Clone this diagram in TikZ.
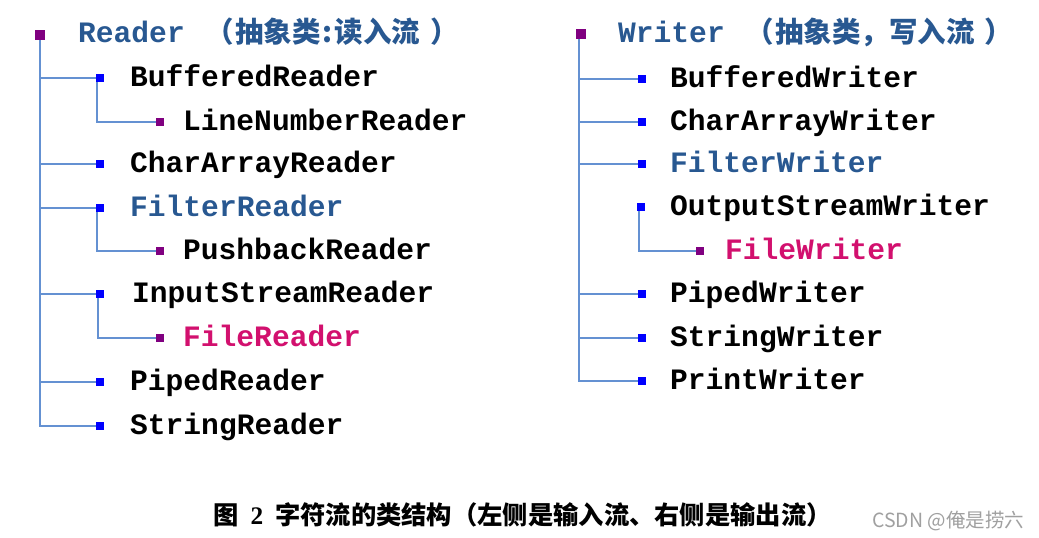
\documentclass[tikz,border=0pt]{standalone}
\usepackage{fontspec}
\setmonofont{Liberation Mono}
\newfontfamily\cjk{Noto Sans CJK SC}
\newfontfamily\serifb{Liberation Serif}
\definecolor{rootpurple}{RGB}{128,0,128}
\definecolor{sqblue}{RGB}{0,0,255}
\definecolor{linecol}{RGB}{100,145,210}
\definecolor{hdrblue}{RGB}{40,88,145}
\definecolor{magent}{RGB}{210,16,110}
\definecolor{wmgray}{RGB}{160,160,160}
\begin{document}
\begin{tikzpicture}[x=1pt,y=-1pt,
  rootsq/.style={fill=rootpurple,minimum size=10pt,inner sep=0pt,outer sep=0pt},
  bluesq/.style={fill=sqblue,minimum size=8.5pt,inner sep=0pt,outer sep=0pt},
  purpsq/.style={fill=rootpurple,minimum size=8.5pt,inner sep=0pt,outer sep=0pt},
  lbl/.style={anchor=base west,inner sep=0pt,font=\ttfamily\bfseries\fontsize{29.6}{30}\selectfont},
  hdr/.style={lbl,text=hdrblue},
  conn/.style={draw=linecol,line width=1.4pt}]
\useasboundingbox[fill=white] (0,0) rectangle (1039,538);

% ---------- Left tree: Reader ----------
\node[rootsq] (rR) at (40,35) {};
\node[hdr] (hR) at (78,42) {Reader\hspace{21pt}{\cjk\bfseries\fontsize{28.5}{28}\selectfont （\hspace{1pt}抽象类\hspace{2pt}:\hspace{2pt}读入流\hspace{10pt}）}};

\node[bluesq] (sBR) at (100,78) {};
\node[lbl] (tBR) at (130,86) {BufferedReader};
\node[purpsq] (sLN) at (160,122) {};
\node[lbl] (tLN) at (183,130) {LineNumberReader};
\node[bluesq] (sCA) at (100,164) {};
\node[lbl] (tCA) at (130,172) {CharArrayReader};
\node[bluesq] (sFR) at (100,208) {};
\node[lbl,text=hdrblue] (tFR) at (130,216) {FilterReader};
\node[purpsq] (sPB) at (160,251) {};
\node[lbl] (tPB) at (183,259) {PushbackReader};
\node[bluesq] (sIS) at (100,294) {};
\node[lbl] (tIS) at (132,302) {InputStreamReader};
\node[purpsq] (sFI) at (160,338) {};
\node[lbl,text=magent] (tFI) at (183,346) {FileReader};
\node[bluesq] (sPI) at (100,382) {};
\node[lbl] (tPI) at (130,390) {PipedReader};
\node[bluesq] (sST) at (100,426) {};
\node[lbl] (tST) at (130,434) {StringReader};

\foreach \c in {sBR,sCA,sFR,sIS,sPI,sST}
  \draw[conn] (rR.south) |- (\c.west);
\draw[conn] ([xshift=-3pt]sBR.south) |- (sLN.west);
\draw[conn] ([xshift=-3pt]sFR.south) |- (sPB.west);
\draw[conn] ([xshift=-2pt]sIS.south) |- (sFI.west);

% ---------- Right tree: Writer ----------
\node[rootsq] (rW) at (581,34) {};
\node[hdr] (hW) at (618,42) {Writer\hspace{21pt}{\cjk\bfseries\fontsize{28.5}{28}\selectfont （\hspace{1pt}抽象类，写入流\hspace{10pt}）}};

\node[bluesq] (sBW) at (642,79) {};
\node[lbl] (tBW) at (670,87) {BufferedWriter};
\node[bluesq] (sCW) at (642,122) {};
\node[lbl] (tCW) at (670,130) {CharArrayWriter};
\node[bluesq] (sFW) at (642,164) {};
\node[lbl,text=hdrblue] (tFW) at (670,172) {FilterWriter};
\node[bluesq] (sOW) at (641,207) {};
\node[lbl] (tOW) at (670,215) {OutputStreamWriter};
\node[purpsq] (sFiW) at (700,251) {};
\node[lbl,text=magent] (tFiW) at (725,259) {FileWriter};
\node[bluesq] (sPW) at (642,294) {};
\node[lbl] (tPW) at (670,302) {PipedWriter};
\node[bluesq] (sSW) at (642,338) {};
\node[lbl] (tSW) at (670,346) {StringWriter};
\node[bluesq] (sPrW) at (642,381) {};
\node[lbl] (tPrW) at (670,389) {PrintWriter};

\foreach \c in {sBW,sCW,sFW,sPW,sSW,sPrW}
  \draw[conn] ([xshift=-2pt]rW.south) |- (\c.west);
\draw[conn] ([xshift=-2pt]sOW.south) |- (sFiW.west);

% ---------- Caption ----------
\node[anchor=base west,inner sep=0pt,font=\cjk\bfseries\fontsize{25.3}{25}\selectfont] (cap) at (213,524)
  {图\hspace{12pt}{\serifb\bfseries 2}\hspace{12pt}字符流的类结构（左侧是输入流、右侧是输出流）};
\node[anchor=base west,inner sep=0pt,text=wmgray,font=\cjk\fontsize{19.5}{20}\selectfont] (wm) at (872,527)
  {CSDN @俺是捞六};
\end{tikzpicture}
\end{document}
